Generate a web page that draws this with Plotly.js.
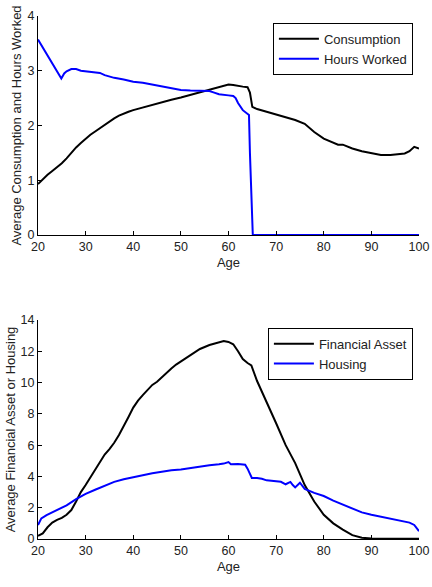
<!DOCTYPE html>
<html>
<head>
<meta charset="utf-8">
<script src="https://cdn.plot.ly/plotly-3.0.1.min.js"></script>
<style>
  html, body { margin: 0; padding: 0; background: #fff; }
  #chart { width: 432px; height: 587px; }
</style>
</head>
<body>
<div id="chart"></div>
<script>
// Life-cycle profiles by age

// Consumption
const consAge = [20,21,22,23,24,25,26,27,28,29,30,31,32,33,34,35,36,37,38,39,40,42,44,46,48,50,52,54,56,58,59,60,61,62,63,64,64.5,65,66,68,70,72,74,76,78,80,82,83,84,86,88,90,92,94,96,97,98,99,100];
const consumption = [0.93,1.02,1.1,1.17,1.24,1.31,1.4,1.51,1.6,1.68,1.76,1.83,1.89,1.95,2.02,2.08,2.13,2.18,2.22,2.25,2.28,2.33,2.38,2.43,2.47,2.51,2.56,2.6,2.66,2.7,2.73,2.75,2.74,2.72,2.71,2.7,2.6,2.34,2.3,2.25,2.2,2.16,2.1,2.03,1.88,1.76,1.68,1.65,1.65,1.58,1.53,1.49,1.46,1.46,1.48,1.49,1.53,1.61,1.58];

// Hours worked
const hoursAge = [20,21,22,23,24,24.9,25.5,26,27,28,29,30,31,32,33,34,35,36,38,40,42,44,46,48,50,52,54,56,57,58,60,61,61.5,62,63,64,64.3,64.5,64.8,65.1,70,80,90,100];
const hoursWorked = [3.57,3.42,3.28,3.14,2.98,2.86,2.95,2.99,3.03,3.03,3.0,2.99,2.98,2.98,2.96,2.92,2.89,2.87,2.84,2.8,2.78,2.75,2.72,2.68,2.65,2.64,2.64,2.63,2.6,2.57,2.55,2.54,2.5,2.41,2.28,2.21,2.19,1.5,0.6,0,0,0,0,0];

// Financial asset
const finAge = [20,21,22,23,24,25,26,27,28,29,30,31,32,33,34,35,36,37,38,39,40,41,42,43,44,45,46,47,48,49,50,52,54,56,58,59,60,61,62,63,64,64.8,66,68,70,72,74,76,78,80,82,84,86,88,90,95,100];
const financialAsset = [0.2,0.36,0.75,1.05,1.22,1.35,1.55,1.85,2.4,3.0,3.45,3.95,4.45,4.95,5.4,5.75,6.15,6.65,7.2,7.8,8.4,8.85,9.2,9.55,9.85,10.05,10.35,10.65,10.9,11.15,11.35,11.8,12.15,12.4,12.6,12.66,12.6,12.45,12.0,11.5,11.25,11.1,10.1,8.8,7.4,6.0,4.85,3.45,2.4,1.55,1.0,0.6,0.25,0.08,0.03,0.02,0.02];

// Housing
const houseAge = [20,20.7,21.8,23,24,26,28,30,32,34,36,38,40,42,44,46,48,50,52,54,56,58,59,60,60.5,62,63.5,64,64.9,66,67,68,70,71,72,73,73.5,74,75,76,78,80,82,84,86,88,90,92,94,96,98,99,100];
const housing = [0.89,1.32,1.53,1.7,1.85,2.15,2.55,2.88,3.15,3.4,3.65,3.82,3.97,4.08,4.2,4.3,4.4,4.45,4.55,4.65,4.72,4.78,4.82,4.92,4.78,4.8,4.75,4.5,3.9,3.9,3.85,3.75,3.7,3.66,3.5,3.65,3.45,3.3,3.6,3.2,2.95,2.75,2.45,2.2,1.95,1.7,1.55,1.42,1.3,1.2,1.05,0.9,0.5];

const xTicks = [20,30,40,50,60,70,80,90,100];
const yTicksTop = [0,1,2,3,4];
const yTicksBottom = [0,2,4,6,8,10,12,14];

const FONT = '"Liberation Sans", Arial, Helvetica, sans-serif';
const INK = '#222';

const traces = [
  { x: consAge, y: consumption, name: 'Consumption', type: 'scatter', mode: 'lines',
    line: { color: '#000', width: 2 }, xaxis: 'x', yaxis: 'y', legend: 'legend' },
  { x: hoursAge, y: hoursWorked, name: 'Hours Worked', type: 'scatter', mode: 'lines',
    line: { color: '#0000ff', width: 2 }, xaxis: 'x', yaxis: 'y', legend: 'legend' },
  { x: finAge, y: financialAsset, name: 'Financial Asset', type: 'scatter', mode: 'lines',
    line: { color: '#000', width: 2 }, xaxis: 'x2', yaxis: 'y2', legend: 'legend2' },
  { x: houseAge, y: housing, name: 'Housing', type: 'scatter', mode: 'lines',
    line: { color: '#0000ff', width: 2 }, xaxis: 'x2', yaxis: 'y2', legend: 'legend2' }
];

function xAxis(anchor) {
  return {
    anchor: anchor, domain: [0, 1], range: [20, 100],
    tickmode: 'array', tickvals: xTicks, ticks: 'inside', ticklen: 4, tickcolor: '#000',
    showline: true, linecolor: '#000', linewidth: 1, showgrid: false, zeroline: false,
    tickfont: { family: FONT, size: 12.5, color: INK },
    title: { text: 'Age', font: { family: FONT, size: 13, color: INK }, standoff: 4 }
  };
}
function yAxis(anchor, domain, range, ticks, label) {
  return {
    anchor: anchor, domain: domain, range: range,
    tickmode: 'array', tickvals: ticks, ticks: 'inside', ticklen: 4, tickcolor: '#000',
    showline: true, linecolor: '#000', linewidth: 1, showgrid: false, zeroline: false,
    tickfont: { family: FONT, size: 12.5, color: INK },
    title: { text: label, font: { family: FONT, size: 13, color: INK }, standoff: 2 }
  };
}

const legendStyle = (y) => ({
  x: 0.984, xanchor: 'right', y: y, yanchor: 'top',
  bgcolor: '#fff', bordercolor: '#000', borderwidth: 1,
  font: { family: FONT, size: 13, color: INK },
  tracegroupgap: 0, itemwidth: 40
});

const layout = {
  width: 432, height: 587,
  margin: { l: 38, r: 13, t: 16, b: 48 },
  paper_bgcolor: '#fff', plot_bgcolor: '#fff',
  showlegend: true,
  xaxis: xAxis('y'),
  yaxis: yAxis('x', [0.5813, 1], [0, 4], yTicksTop, 'Average Consumption and Hours Worked'),
  xaxis2: xAxis('y2'),
  yaxis2: yAxis('x2', [0, 0.4187], [0, 14], yTicksBottom, 'Average Financial Asset or Housing'),
  legend: legendStyle(0.987),
  legend2: legendStyle(0.404)
};

Plotly.newPlot('chart', traces, layout, { displayModeBar: false, staticPlot: true });
</script>
</body>
</html>
